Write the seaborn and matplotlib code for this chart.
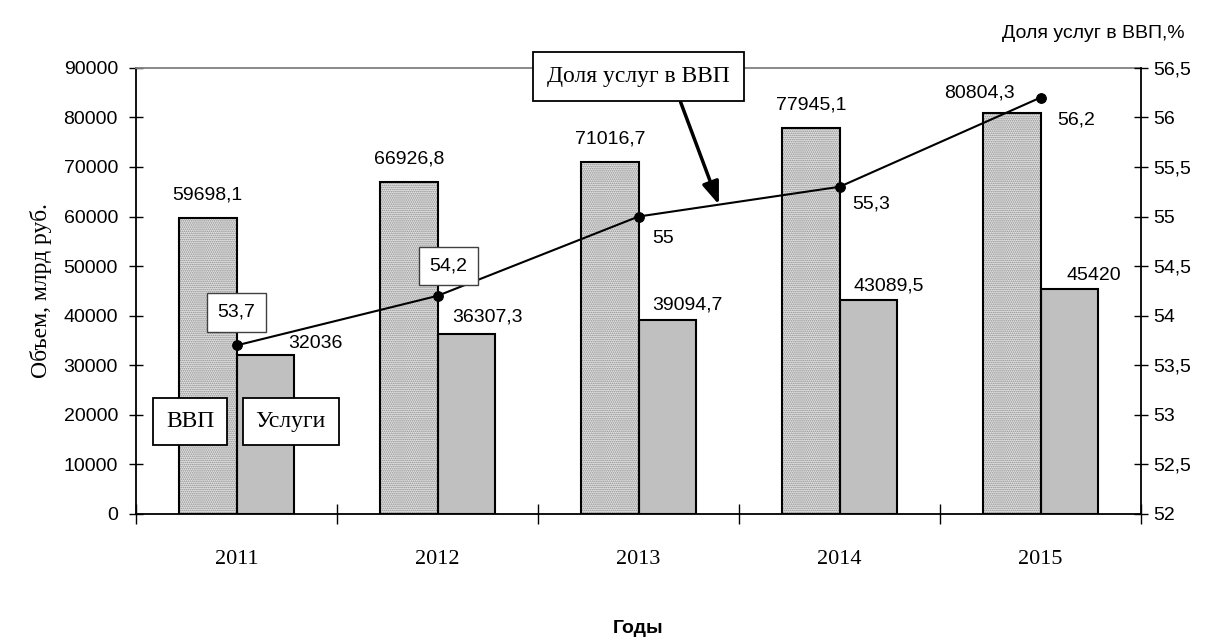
import matplotlib
matplotlib.use("Agg")
import matplotlib.pyplot as plt
from matplotlib.patches import Rectangle
from matplotlib.ticker import FixedLocator, FuncFormatter
import numpy as np
import pandas as pd
import seaborn as sns

years = ["2011", "2012", "2013", "2014", "2015"]
vvp = [59698.1, 66926.8, 71016.7, 77945.1, 80804.3]
uslugi = [32036, 36307.3, 39094.7, 43089.5, 45420]
dolya = [53.7, 54.2, 55.0, 55.3, 56.2]

vvp_labels = ["59698,1", "66926,8", "71016,7", "77945,1", "80804,3"]
uslugi_labels = ["32036", "36307,3", "39094,7", "43089,5", "45420"]
dolya_labels = ["53,7", "54,2", "55", "55,3", "56,2"]

df = pd.DataFrame({
    "year": years * 2,
    "value": vvp + uslugi,
    "series": ["ВВП"] * 5 + ["Услуги"] * 5,
})

sns.set_style("white")
plt.rcParams['font.family'] = ['Liberation Sans', 'DejaVu Sans']
plt.rcParams['text.color'] = 'black'
plt.rcParams['xtick.color'] = 'black'
plt.rcParams['ytick.color'] = 'black'
plt.rcParams['axes.labelcolor'] = 'black'
plt.rcParams['hatch.linewidth'] = 0.8

FS = 14

fig = plt.figure(figsize=(12.1, 6.4), dpi=100)
ax = fig.add_axes([0.1124, 0.197, 0.8306, 0.697])

sns.barplot(data=df, x="year", y="value", hue="series", ax=ax,
            palette={"ВВП": "#e4e4e4", "Услуги": "#c0c0c0"},
            width=0.57, gap=0, edgecolor="black", linewidth=1.5,
            legend=False, errorbar=None)

# stipple for ВВП bars: hatch drawn in gray, outline redrawn in black
for bar in ax.patches[:5]:
    bar.set_hatch("........")
    bar.set_edgecolor("#8a8a8a")
    bar.set_linewidth(0)
    ax.add_patch(Rectangle(bar.get_xy(), bar.get_width(), bar.get_height(),
                           fill=False, edgecolor="black", linewidth=1.5,
                           zorder=bar.get_zorder() + 0.1))

ax.set_ylim(0, 90000)
ax.set_xlim(-0.5, 4.5)
ax.set_yticks(np.arange(0, 90001, 10000))
ax.yaxis.set_major_formatter(FuncFormatter(lambda v, p: f"{int(v)}"))
ax.tick_params(axis="y", direction="inout", length=10, width=1, left=True,
               labelsize=FS, pad=8)
ax.set_xticks(range(5))
ax.set_xticklabels(years, fontfamily="Liberation Serif", fontsize=16)
ax.tick_params(axis="x", which="major", length=0, pad=26)
ax.xaxis.set_minor_locator(FixedLocator(np.arange(-0.5, 4.6, 1)))
ax.tick_params(axis="x", which="minor", direction="inout", length=14,
               width=1, bottom=True)
for s in ["left", "bottom"]:
    ax.spines[s].set_color("black")
    ax.spines[s].set_linewidth(1.3)
ax.spines["top"].set_color("#808080")
ax.spines["top"].set_linewidth(1.3)
ax.spines["right"].set_visible(False)

ax.set_xlabel("Годы", fontweight="bold", fontsize=FS, labelpad=37)
ax.set_ylabel("Объем, млрд руб.", fontfamily="Liberation Serif",
              fontsize=17, labelpad=8)

# bar value labels (offsets in pixels from the bar top centre)
vvp_dx = [0, 0, 0, 0, -32]
vvp_dy = [23, 23, 23, 23, 20]
for i, (v, t) in enumerate(zip(vvp, vvp_labels)):
    ax.annotate(t, (i - 0.143, v), xytext=(vvp_dx[i], vvp_dy[i]),
                textcoords="offset pixels", ha="center", va="center",
                fontsize=FS)
usl_dx = [50, 21, 20, 20, 25]
usl_dy = [12, 17, 15, 14, 13]
for i, (v, t) in enumerate(zip(uslugi, uslugi_labels)):
    ax.annotate(t, (i + 0.143, v), xytext=(usl_dx[i], usl_dy[i]),
                textcoords="offset pixels", ha="center", va="center",
                fontsize=FS)

# share line on the right axis
ax2 = ax.twinx()
sns.lineplot(x=np.arange(5), y=dolya, ax=ax2, color="black", linewidth=1.5,
             marker="o", markersize=7, markeredgecolor="black", zorder=5)
ax2.set_ylim(52, 56.5)
ax2.set_yticks(np.arange(52, 56.51, 0.5))
ax2.yaxis.set_major_formatter(
    FuncFormatter(lambda v, p: (f"{v:g}").replace(".", ",")))
ax2.tick_params(axis="y", direction="inout", length=10, width=1, right=True,
                labelsize=FS, pad=4)
for s in ["left", "top", "bottom"]:
    ax2.spines[s].set_visible(False)
ax2.spines["right"].set_color("black")
ax2.spines["right"].set_linewidth(1.3)

box = dict(boxstyle="square,pad=0.55", facecolor="white", edgecolor="#404040",
           linewidth=1)
d_off = [(0, 33), (11, 30), (25, -22), (32, -17), (36, -22)]
for i, (v, t) in enumerate(zip(dolya, dolya_labels)):
    ax2.annotate(t, (i, v), xytext=d_off[i], textcoords="offset pixels",
                 ha="center", va="center", fontsize=FS,
                 bbox=box if i < 2 else None, zorder=6)

# callout for the line
ax2.annotate("Доля услуг в ВВП", xy=(2.4, 55.12), xytext=(2.0, 56.41),
             ha="center", va="center", fontfamily="Liberation Serif",
             fontsize=17,
             bbox=dict(boxstyle="square,pad=0.6", facecolor="white",
                       edgecolor="black", linewidth=1.3),
             arrowprops=dict(arrowstyle="-|>,head_length=0.8,head_width=0.3",
                             color="black", lw=2.5, shrinkA=0, shrinkB=0,
                             relpos=(0.7, 0)),
             annotation_clip=False, zorder=7)

# series name boxes
lbox = dict(boxstyle="square,pad=0.55", facecolor="white", edgecolor="black",
            linewidth=1.3)
ax.text(-0.23, 18565, "ВВП", ha="center", va="center",
        fontfamily="Liberation Serif", fontsize=17, bbox=lbox, zorder=8)
ax.text(0.27, 18565, "Услуги", ha="center", va="center",
        fontfamily="Liberation Serif", fontsize=17, bbox=lbox, zorder=8)

fig.text(0.979, 0.948, "Доля услуг в ВВП,%", ha="right", va="center",
         fontsize=FS)

fig.savefig("out.png", dpi=100)
